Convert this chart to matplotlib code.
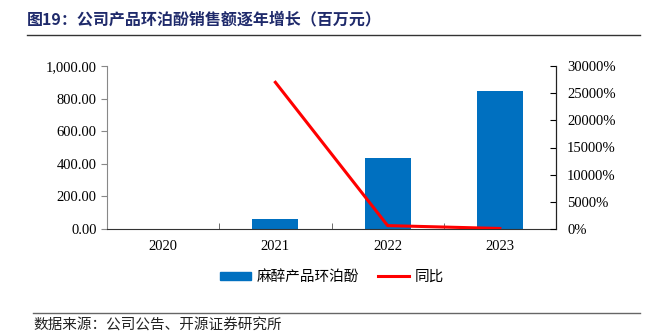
import matplotlib.pyplot as plt
from matplotlib.ticker import FuncFormatter, FixedLocator
from matplotlib.lines import Line2D
from matplotlib.patches import Patch

years = ["2020", "2021", "2022", "2023"]
sales = [0.22, 60, 435, 847]          # 百万元
yoy = [None, 27000, 625, 95]          # %

cjk = ["Noto Sans CJK SC", "DejaVu Sans"]
serif = "Liberation Serif"
blue = "#0070C0"

fig = plt.figure(figsize=(6.61, 3.36), dpi=100)
ax = fig.add_axes([107 / 661, 1 - 229 / 336, 449 / 661, 163 / 336])

x = list(range(len(years)))
ax.bar(x, sales, width=0.41, color=blue, zorder=2)
ax.set_xlim(-0.5, 3.5)
ax.set_ylim(0, 1000)
ax.set_yticks([0, 200, 400, 600, 800, 1000])
ax.yaxis.set_major_formatter(FuncFormatter(lambda v, p: f"{v:,.2f}"))
ax.set_xticks(x)
ax.set_xticklabels(years)
ax.xaxis.set_minor_locator(FixedLocator([0.5, 1.5, 2.5]))
ax.tick_params(axis="x", which="major", length=0, pad=8)
ax.tick_params(axis="x", which="minor", direction="in", length=4, color="#555555")
ax.tick_params(axis="y", direction="out", length=4, color="#888888")
for lab in ax.get_xticklabels() + ax.get_yticklabels():
    lab.set_fontfamily(serif)
    lab.set_fontsize(10.5)
ax.spines["top"].set_visible(False)
ax.spines["left"].set_color("#888888")
ax.spines["bottom"].set_color("#333333")

ax2 = ax.twinx()
xs = [i for i, v in zip(x, yoy) if v is not None]
ys = [v for v in yoy if v is not None]
ax2.plot(xs, ys, color="#FF0000", lw=2.2, zorder=3)
ax2.set_ylim(0, 30000)
ax2.set_yticks(range(0, 30001, 5000))
ax2.yaxis.set_major_formatter(FuncFormatter(lambda v, p: f"{v:.0f}%"))
ax2.tick_params(axis="y", direction="in", length=4, pad=8)
for lab in ax2.get_yticklabels():
    lab.set_fontfamily(serif)
    lab.set_fontsize(10.5)
for s in ["top", "left", "bottom"]:
    ax2.spines[s].set_visible(False)
ax2.spines["right"].set_color("#222222")

handles = [Patch(color=blue), Line2D([], [], color="#FF0000", lw=2.2)]
fig.legend(handles, ["麻醉产品环泊酚", "同比"], loc="center",
           bbox_to_anchor=(332 / 661, 1 - 277 / 336), ncol=2, frameon=False,
           prop={"family": cjk, "size": 10.5}, handlelength=2.1, handleheight=0.5,
           handletextpad=0.4, columnspacing=1.3)

fig.text(27 / 661, 1 - 19 / 336, "图19：公司产品环泊酚销售额逐年增长（百万元）",
         family=cjk, fontsize=11.5, fontweight="bold", color="#1F2A6B", va="center")
fig.add_artist(Line2D([27 / 661, 640 / 661], [1 - 35 / 336] * 2, color="#333333", lw=1))
fig.add_artist(Line2D([33 / 661, 640 / 661], [1 - 313 / 336] * 2, color="#666666", lw=1))
fig.text(33 / 661, 1 - 326 / 336, "数据来源：公司公告、开源证券研究所",
         family=cjk, fontsize=10.5, color="#222222", va="center")

fig.savefig("out.png", dpi=100)
